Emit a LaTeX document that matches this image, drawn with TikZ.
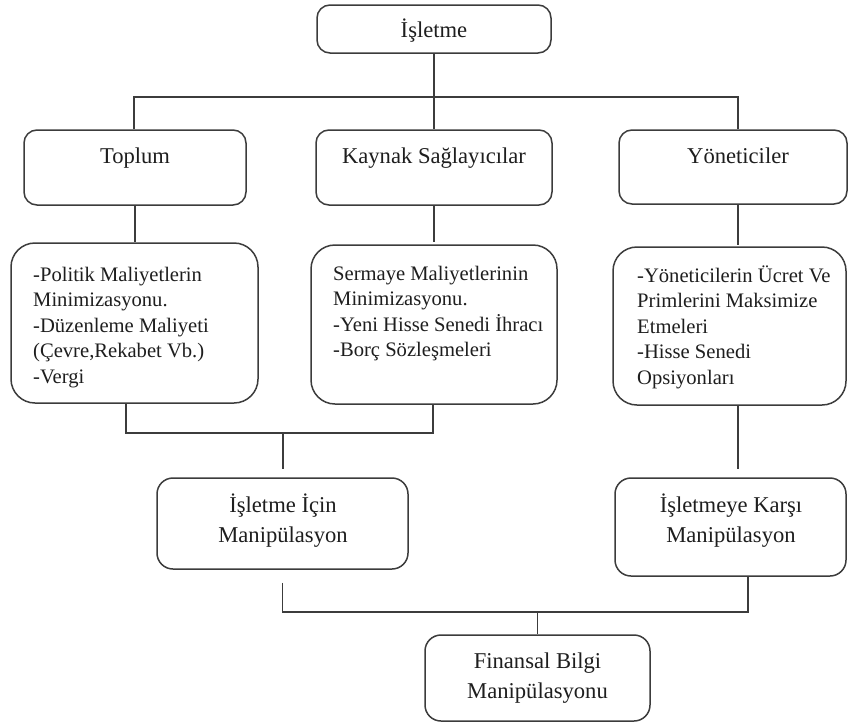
\documentclass[tikz,border=0pt]{standalone}
\usepackage{fontspec}
\setmainfont{Liberation Serif}
\definecolor{linec}{HTML}{3C3C3C}
\definecolor{txtc}{HTML}{1E1E1E}
\newcommand\detl[1]{\vtop{\halign{##\hfil\cr#1\crcr}}}
\newcommand\headl[1]{\vtop{\halign{\hfil##\hfil\cr#1\crcr}}}
\begin{document}
\begin{tikzpicture}[x=1pt,y=-1pt,
  box/.style={draw=linec, line width=1.5pt, rounded corners=13pt, inner sep=0pt},
  dbox/.style={box, rounded corners=24pt},
  conn/.style={draw=linec, line width=1.6pt},
  head/.style={font=\fontsize{22.6}{30}\selectfont, text=txtc, inner sep=0pt, anchor=base},
  det/.style={font=\fontsize{20.6}{25.5}\selectfont, text=txtc, inner sep=0pt, anchor=base west},
]
\useasboundingbox (0,0) rectangle (848,723);
\fill[white] (0,0) rectangle (848,723);

% boxes
\node[box, minimum width=234pt, minimum height=48pt] (isl) at (434,29) {};
\node[box, minimum width=222pt, minimum height=75pt] (top) at (135,167.5) {};
\node[box, minimum width=236pt, minimum height=75pt] (kay) at (434,167.5) {};
\node[box, minimum width=228pt, minimum height=74pt] (yon) at (733,167) {};
\node[dbox, minimum width=247pt, minimum height=160pt] (pl) at (134.5,323) {};
\node[dbox, minimum width=246pt, minimum height=159pt] (sm) at (434,324.5) {};
\node[dbox, minimum width=233pt, minimum height=158pt] (yp) at (729.5,326) {};
\node[box, rounded corners=16pt, minimum width=251pt, minimum height=91pt] (ic) at (282.5,523.5) {};
\node[box, rounded corners=16pt, minimum width=231pt, minimum height=98pt] (ka) at (730.5,527) {};
\node[box, rounded corners=16pt, minimum width=225pt, minimum height=86pt] (fb) at (537.5,678) {};

% texts
\node[head] (islT) at (434,37) {İşletme};
\node[head] (topT) at (135,163) {Toplum};
\node[head] (kayT) at (434,163) {Kaynak Sağlayıcılar};
\node[head] (yonT) at (738,163) {Yöneticiler};
\node[det] (plT) at (33,281) {\detl{-Politik Maliyetlerin\cr Minimizasyonu.\cr -Düzenleme Maliyeti\cr (Çevre,Rekabet Vb.)\cr -Vergi}};
\node[det] (smT) at (333,280) {\detl{Sermaye Maliyetlerinin\cr Minimizasyonu.\cr -Yeni Hisse Senedi İhracı\cr -Borç Sözleşmeleri}};
\node[det] (ypT) at (637,282) {\detl{-Yöneticilerin Ücret Ve\cr Primlerini Maksimize\cr Etmeleri\cr -Hisse Senedi\cr Opsiyonları}};
\node[head] (icT) at (283,512) {\headl{İşletme İçin\cr Manipülasyon}};
\node[head] (kaT) at (731,512) {\headl{İşletmeye Karşı\cr Manipülasyon}};
\node[head] (fbT) at (537.5,668) {\headl{Finansal Bilgi\cr Manipülasyonu}};

% connectors
\coordinate (bar) at (434,97);
\coordinate (b1) at (283,433);
\coordinate (b2) at (537.5,612);
\draw[conn] (isl.south) -- (kay.north);
\draw[conn] ([xshift=-1pt]top.north) |- (bar) -| ([xshift=5pt]yon.north);
\draw[conn] (top.south) -- (top.south |- pl.north);
\draw[conn, shorten >=2pt] (kay.south) -- (kay.south |- sm.north);
\draw[conn, shorten >=1pt] ([xshift=5pt]yon.south) -- ([xshift=5pt]yon.south |- yp.north);
\draw[conn] ([xshift=-8.5pt]pl.south) |- (b1) -| ([xshift=-1pt]sm.south);
\draw[conn, shorten >=8pt] (b1) -- (b1 |- ic.north);
\draw[conn, shorten >=8pt] ([xshift=8.5pt]yp.south) -- ([xshift=8.5pt]yp.south |- ka.north);
\draw[conn] ([yshift=-13pt]ic.south) |- (b2) -| ([xshift=17.5pt]ka.south);
\draw[conn] (b2) -- (fb.north);
\end{tikzpicture}
\end{document}
